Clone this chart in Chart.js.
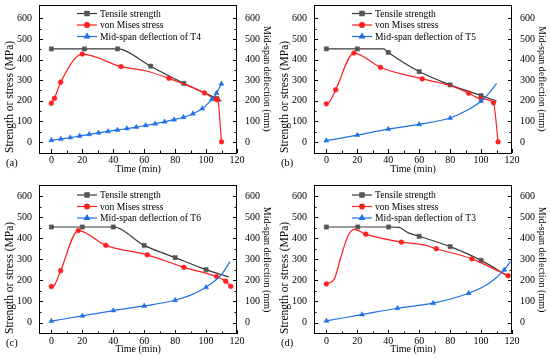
<!DOCTYPE html>
<html>
<head>
<meta charset="utf-8">
<script src="https://cdn.jsdelivr.net/npm/chart.js@4.4.0/dist/chart.umd.min.js"></script>
<style>
  body { margin: 0; background: #fff; width: 550px; height: 359px; position: relative; overflow: hidden; font-family: "Liberation Serif", serif; }
  .panel { position: absolute; width: 275px; height: 180px; }
  .tag { position: absolute; left: 6px; top: 157px; font-size: 10.5px; line-height: 12px; color: #000; }
</style>
</head>
<body>
<div class="panel" style="left:0;top:0"><canvas id="cA" width="275" height="180"></canvas><div class="tag">(a)</div></div>
<div class="panel" style="left:275px;top:0"><canvas id="cB" width="275" height="180"></canvas><div class="tag">(b)</div></div>
<div class="panel" style="left:0;top:180px"><canvas id="cC" width="275" height="180"></canvas><div class="tag">(c)</div></div>
<div class="panel" style="left:275px;top:180px"><canvas id="cD" width="275" height="180"></canvas><div class="tag">(d)</div></div>
<script>
const xTicks = [0, 20, 40, 60, 80, 100, 120];
const yTicks = [0, 100, 200, 300, 400, 500, 600];

// (a) T4  -- m = 1 where Origin drew a marker
const a_strT = [0, 21.4, 42.8, 45.5, 64.2, 85.6, 107, 110];
const a_strV = [452, 452, 452, 450, 368, 285, 210, 198];
const a_strM = [1, 1, 1, 0, 1, 1, 1, 0];
const a_vmT = [0, 2, 6, 20, 45, 60, 76, 99, 106.5, 107.5, 110];
const a_vmV = [188, 212, 290, 427, 366, 347, 309, 238, 208, 205, 0];
const a_vmM = [1, 1, 1, 1, 1, 0, 1, 1, 1, 1, 1];
const a_defT = [0, 6.1, 12.2, 18.3, 24.4, 30.5, 36.6, 42.7, 48.8, 54.9, 61, 67.1, 73.2, 79.3, 85.4, 91.5, 97.6, 103.7, 106.8, 109.9];
const a_defV = [8, 14, 21, 29, 37, 44, 51, 58, 65, 72, 80, 88, 98, 108, 120, 137, 162, 207, 237, 282];
const a_defM = a_defT.map(() => 1);

// (b) T5
const b_strT = [0, 20, 37, 40, 60, 80, 100, 110];
const b_strV = [452, 452, 452, 435, 342, 277, 225, 199];
const b_strM = [1, 1, 0, 1, 1, 1, 1, 0];
const b_vmT = [0, 2, 6, 17.8, 35, 62, 80, 92, 100, 108, 111];
const b_vmV = [185, 194, 253, 432, 362, 306, 274, 237, 210, 190, 0];
const b_vmM = [1, 0, 1, 1, 1, 1, 0, 1, 1, 1, 1];
const b_defT = [0, 20, 40, 60, 80, 90, 100, 105, 110];
const b_defV = [6, 33, 62, 85, 116, 150, 198, 236, 284];
const b_defM = [1, 1, 1, 1, 1, 0, 1, 0, 0];

// (c) T6
const c_strT = [0, 20, 40, 60, 80, 100, 115];
const c_strV = [453, 453, 453, 366, 308, 251, 216];
const c_strM = [1, 1, 1, 1, 1, 1, 0];
const c_vmT = [0, 2, 6, 17.4, 35.2, 62, 85.7, 106.8, 112.7, 116];
const c_vmV = [171, 178, 246, 436, 366, 321, 262, 218, 196, 172];
const c_vmM = [1, 0, 1, 1, 1, 1, 1, 1, 1, 1];
const c_defT = [0, 20, 40, 60, 80, 90, 100, 110, 115.5];
const c_defV = [7, 32, 57, 79, 106, 130, 167, 228, 289];
const c_defM = [1, 1, 1, 1, 1, 0, 1, 0, 0];

// (d) T3
const d_strT = [0, 20.3, 40.2, 47, 53, 60, 80, 100, 117];
const d_strV = [453, 453, 453, 451, 425, 409, 360, 295, 222];
const d_strM = [1, 1, 1, 0, 0, 1, 1, 1, 0];
const d_vmT = [0, 5, 9.5, 13.8, 18, 25.5, 48.5, 63, 71, 94, 117.5];
const d_vmV = [183, 205, 313, 408, 442, 419, 381, 368, 350, 302, 222];
const d_vmM = [1, 0, 0, 0, 0, 1, 1, 0, 1, 1, 1];
const d_defT = [0, 23, 46, 69, 92, 105, 115, 119];
const d_defV = [8, 38, 68, 92, 139, 185, 250, 289];
const d_defM = [1, 1, 1, 1, 1, 0, 1, 0];

const FONT = 'Liberation Serif';
const BLACK = '#3a3a3a', RED = '#ff1f1f', BLUE = '#2070e4';

function pts(t, v) { return t.map((x, i) => ({ x: x, y: v[i] })); }
function radii(m, r) { return m.map(k => k ? r : 0); }

const decor = {
  id: 'decor',
  afterDraw(chart) {
    const { ctx, chartArea: a, scales } = chart;
    const o = chart.options.plugins.decor;
    ctx.save();
    ctx.strokeStyle = '#000';
    ctx.lineWidth = 1;
    ctx.strokeRect(Math.round(a.left) + 0.5, Math.round(a.top) + 0.5, Math.round(a.right - a.left) - 1, Math.round(a.bottom - a.top) - 1);
    ctx.beginPath();
    for (let v = 0; v <= 120; v += 10) {
      const px = Math.round(scales.x.getPixelForValue(v)) + 0.5;
      const len = v % 20 ? 2.5 : 4;
      ctx.moveTo(px, a.bottom); ctx.lineTo(px, a.bottom - len);
    }
    for (let v = 0; v <= 600; v += 50) {
      const py = Math.round(scales.y.getPixelForValue(v)) + 0.5;
      const len = v % 100 ? 2.5 : 4;
      ctx.moveTo(a.left, py); ctx.lineTo(a.left + len, py);
      ctx.moveTo(a.right, py); ctx.lineTo(a.right - len, py);
    }
    ctx.stroke();

    // legend inside the plot
    const x0 = a.left + 38, x1 = a.left + 58;
    ctx.font = '9.6px "' + FONT + '"';
    ctx.textBaseline = 'middle';
    chart.data.datasets.forEach((ds, i) => {
      const y = o.legendY + i * 11.5;
      ctx.strokeStyle = ds.borderColor;
      ctx.lineWidth = 1.2;
      ctx.beginPath(); ctx.moveTo(x0, y); ctx.lineTo(x1, y); ctx.stroke();
      ctx.fillStyle = ds.pointBackgroundColor;
      ctx.strokeStyle = ds.pointBorderColor;
      Chart.helpers.drawPoint(ctx, { pointStyle: ds.pointStyle, radius: ds.legendRadius, rotation: 0, borderWidth: 1 }, (x0 + x1) / 2, y);
      ctx.fillStyle = '#000';
      ctx.fillText(ds.label, x1 + 3, y + 0.5);
    });
    ctx.restore();
  }
};

function makeChart(id, p) {
  const tickFont = { family: FONT, size: 10 };
  const titleFont = { family: FONT, size: 10 };
  const yMin = -54, yMax = p.top ? 668 : 652;
  const yCommon = {
    min: yMin, max: yMax,
    afterBuildTicks: s => { s.ticks = yTicks.map(v => ({ value: v })); },
    grid: { display: false, drawTicks: false },
    border: { display: false },
  };
  new Chart(document.getElementById(id), {
    type: 'line',
    data: {
      datasets: [
        {
          label: 'Tensile strength', data: pts(p.str[0], p.str[1]), yAxisID: 'y', order: 3,
          borderColor: BLACK, borderWidth: 1.2, pointStyle: 'rect', pointRadius: radii(p.str[2], 3), legendRadius: 3,
          pointBackgroundColor: '#555', pointBorderColor: '#555', pointBorderWidth: 0.5,
          cubicInterpolationMode: 'monotone'
        },
        {
          label: 'von Mises stress', data: pts(p.vm[0], p.vm[1]), yAxisID: 'y', order: 2,
          borderColor: RED, borderWidth: 1.2, pointStyle: 'circle', pointRadius: radii(p.vm[2], 2.4), legendRadius: 2.4,
          pointBackgroundColor: RED, pointBorderColor: RED, pointBorderWidth: 0.5,
          cubicInterpolationMode: 'monotone'
        },
        {
          label: p.defName, data: pts(p.def[0], p.def[1]), yAxisID: 'y2', order: 1,
          borderColor: BLUE, borderWidth: 1.2, pointStyle: 'triangle', pointRadius: radii(p.def[2], 2.9), legendRadius: 2.9,
          pointBackgroundColor: BLUE, pointBorderColor: BLUE, pointBorderWidth: 0.5,
          cubicInterpolationMode: 'monotone'
        }
      ]
    },
    options: {
      responsive: false,
      animation: false,
      layout: { padding: { top: p.top ? 1 : 5, left: 0, right: 0, bottom: 0 } },
      plugins: { legend: { display: false }, tooltip: { enabled: false }, decor: { legendY: p.top ? 13.5 : 15 } },
      scales: {
        x: {
          type: 'linear', min: -8, max: 120,
          afterBuildTicks: s => { s.ticks = xTicks.map(v => ({ value: v })); },
          afterFit: s => { s.height = p.top ? 27 : 26; s.paddingLeft = 0; s.paddingRight = 0; },
          grid: { display: false, drawTicks: false },
          border: { display: false },
          ticks: { font: tickFont, color: '#000', padding: 1, maxRotation: 0 },
          title: { display: true, text: 'Time (min)', font: titleFont, color: '#000', padding: { top: 0, bottom: 5 } }
        },
        y: Object.assign({}, yCommon, {
          position: 'left',
          afterFit: s => { s.width = 39; s.paddingTop = 0; s.paddingBottom = 0; },
          ticks: { font: tickFont, color: '#000', padding: 7 },
          title: { display: true, text: 'Strength or stress (MPa)', align: 'start', font: { family: FONT, size: 11.5 }, color: '#000', padding: { top: 3, bottom: 0 } }
        }),
        y2: Object.assign({}, yCommon, {
          position: 'right',
          afterFit: s => { s.width = 38; s.paddingTop = 0; s.paddingBottom = 0; },
          ticks: { font: tickFont, color: '#000', padding: 8 },
          title: { display: true, text: 'Mid-span deflection (mm)', font: titleFont, color: '#000', padding: { top: 2, bottom: 0 } }
        })
      }
    },
    plugins: [decor]
  });
}

makeChart('cA', { top: true, defName: 'Mid-span deflection of T4',
  str: [a_strT, a_strV, a_strM], vm: [a_vmT, a_vmV, a_vmM], def: [a_defT, a_defV, a_defM] });
makeChart('cB', { top: true, defName: 'Mid-span deflection of T5',
  str: [b_strT, b_strV, b_strM], vm: [b_vmT, b_vmV, b_vmM], def: [b_defT, b_defV, b_defM] });
makeChart('cC', { top: false, defName: 'Mid-span deflection of T6',
  str: [c_strT, c_strV, c_strM], vm: [c_vmT, c_vmV, c_vmM], def: [c_defT, c_defV, c_defM] });
makeChart('cD', { top: false, defName: 'Mid-span deflection of T3',
  str: [d_strT, d_strV, d_strM], vm: [d_vmT, d_vmV, d_vmM], def: [d_defT, d_defV, d_defM] });
</script>
</body>
</html>
